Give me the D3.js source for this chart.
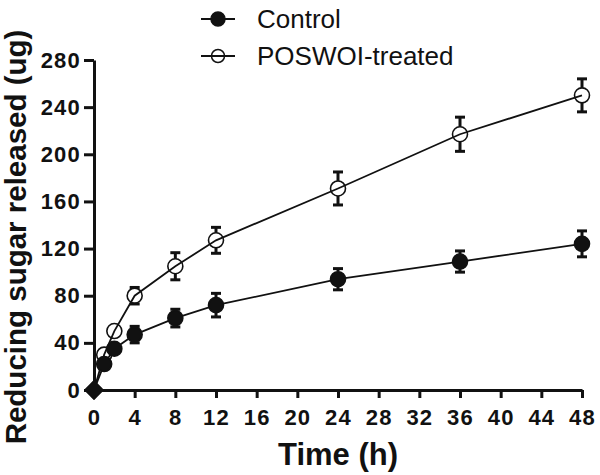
<!DOCTYPE html>
<html><head><meta charset="utf-8">
<script src="https://cdn.jsdelivr.net/npm/d3@7"></script>
<style>body{margin:0;background:#fff}svg{display:block}</style>
</head><body>
<script>
const times = [0, 1, 2, 4, 8, 12, 24, 36, 48];
const controlMean = [0, 22, 35, 47, 61, 72, 94, 109, 124];
const controlErr  = [0, 2, 3, 7, 7.5, 10, 9, 9, 11];
const treatedMean = [0, 30, 50, 80, 105, 127, 171, 217, 250];
const treatedErr  = [0, 2, 3, 7, 11.5, 11, 14, 14.5, 14];
const xTicks = [0,4,8,12,16,20,24,28,32,36,40,44,48];
const yTicks = [0,40,80,120,160,200,240,280];
const seriesNames = ["Control", "POSWOI-treated"];

const W = 600, H = 475;
const svg = d3.select("body").append("svg").attr("width", W).attr("height", H);
const x = d3.scaleLinear().domain([0,48]).range([94,582]);
const y = d3.scaleLinear().domain([0,280]).range([390,60]);
const font = "Liberation Sans, Arial, sans-serif";

// axes
const xAxis = svg.append("g").attr("transform","translate(0,390)")
  .call(d3.axisBottom(x).tickValues(xTicks).tickSize(8).tickPadding(11).tickSizeOuter(0));
const yAxis = svg.append("g").attr("transform","translate(94,0)")
  .call(d3.axisLeft(y).tickValues(yTicks).tickSize(10).tickPadding(3).tickSizeOuter(0));
[xAxis, yAxis].forEach(g => {
  g.select(".domain").attr("stroke","#111").attr("stroke-width",3);
  g.selectAll(".tick line").attr("stroke","#111").attr("stroke-width",3);
  g.selectAll(".tick text").attr("font-family",font).attr("font-weight","bold")
    .attr("font-size",22).attr("letter-spacing","1.2px").attr("fill","#111");
});

// titles
svg.append("text").attr("x",338).attr("y",465).attr("text-anchor","middle")
  .attr("font-family",font).attr("font-weight","bold").attr("font-size",31).attr("fill","#111")
  .text("Time (h)");
svg.append("text").attr("transform","translate(26,237) rotate(-90)").attr("text-anchor","middle")
  .attr("font-family",font).attr("font-weight","bold").attr("font-size",29.5).attr("fill","#111")
  .text("Reducing sugar released (ug)");

const r = 7.5;
function drawSeries(means, errs, filled) {
  const pts = times.map((t,i)=>({t, m:means[i], e:errs[i]}));
  svg.append("path").datum(pts)
    .attr("d", d3.line().x(d=>x(d.t)).y(d=>y(d.m)))
    .attr("fill","none").attr("stroke","#111").attr("stroke-width",1.8);
  const g = svg.append("g");
  pts.forEach(d => {
    const cx = x(d.t), top = y(d.m + d.e), bot = y(d.m - d.e), cy = y(d.m);
    if (cy - top > r) {
      g.append("line").attr("x1",cx).attr("x2",cx).attr("y1",top).attr("y2",cy - r)
        .attr("stroke","#111").attr("stroke-width",3);
      g.append("line").attr("x1",cx-5).attr("x2",cx+5).attr("y1",top).attr("y2",top)
        .attr("stroke","#111").attr("stroke-width",3);
      g.append("line").attr("x1",cx).attr("x2",cx).attr("y1",cy + r).attr("y2",bot)
        .attr("stroke","#111").attr("stroke-width",3);
      g.append("line").attr("x1",cx-5).attr("x2",cx+5).attr("y1",bot).attr("y2",bot)
        .attr("stroke","#111").attr("stroke-width",3);
    }
    if (d.t === 0) {
      g.append("rect").attr("x",cx-7).attr("y",cy-7).attr("width",14).attr("height",14)
        .attr("transform",`rotate(45,${cx},${cy})`).attr("fill","#111");
    } else {
      g.append("circle").attr("cx",cx).attr("cy",cy).attr("r",r)
        .attr("fill", filled ? "#111" : "none").attr("stroke","#111").attr("stroke-width",1.6);
    }
  });
}
drawSeries(treatedMean, treatedErr, false);
drawSeries(controlMean, controlErr, true);

// legend
const legY = [19, 56];
seriesNames.forEach((name,i) => {
  const ly = legY[i];
  svg.append("line").attr("x1",201).attr("x2",235).attr("y1",ly).attr("y2",ly)
    .attr("stroke","#111").attr("stroke-width",1.8);
  svg.append("circle").attr("cx",218).attr("cy",ly).attr("r",i===0?7:6.5)
    .attr("fill", i===0 ? "#111" : "none").attr("stroke","#111").attr("stroke-width",1.5);
  svg.append("text").attr("x",257).attr("y",ly+9).attr("font-family",font)
    .attr("font-size",26).attr("fill","#111").text(name);
});
</script>
</body></html>
